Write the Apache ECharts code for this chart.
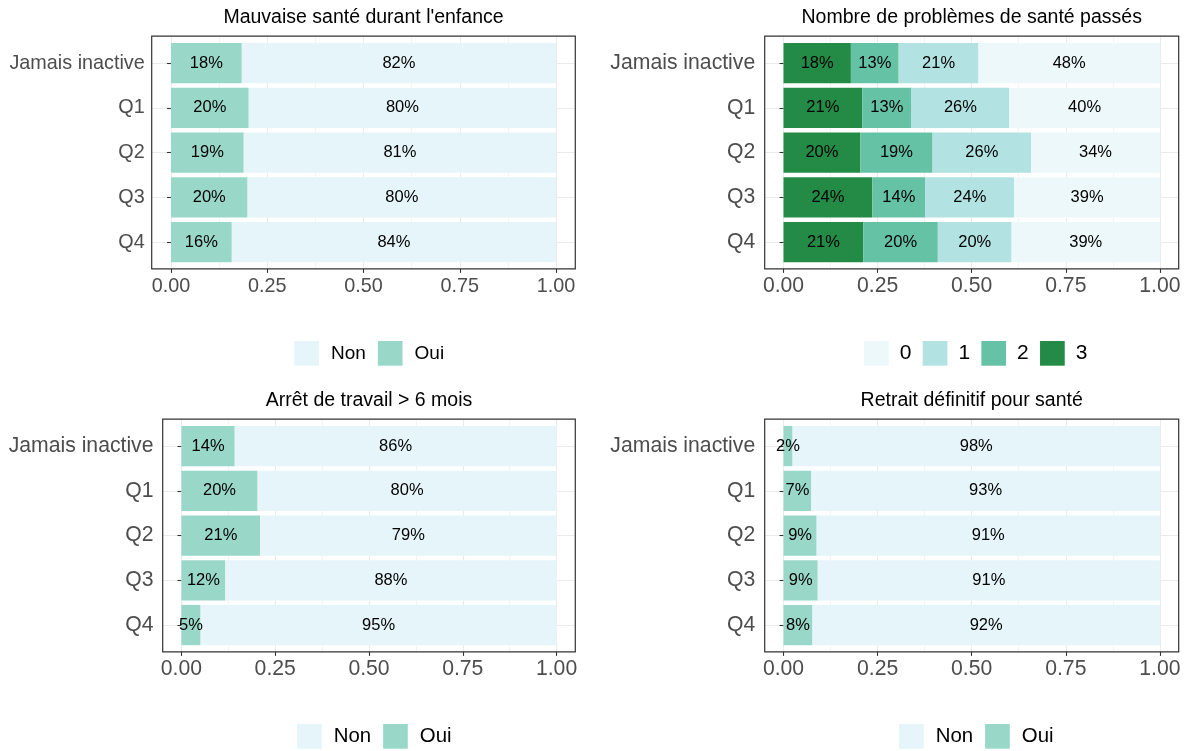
<!DOCTYPE html>
<html><head><meta charset="utf-8">
<script src="https://cdn.jsdelivr.net/npm/echarts@6/dist/echarts.min.js"></script>
<style>html,body{margin:0;padding:0;background:#fff}#c{width:1189px;height:751px}</style>
</head><body><div id="c"></div>
<script>
// ---- data ----
const categories = ['Jamais inactive', 'Q1', 'Q2', 'Q3', 'Q4'];
const xTicks = [0, 25, 50, 75, 100];

const enfanceOui = [18.4, 20.2, 18.9, 19.9, 15.8];
const enfanceNon = [81.6, 79.8, 81.1, 80.1, 84.2];

const problemes3 = [17.9, 20.9, 20.4, 23.6, 21.2];
const problemes2 = [12.7, 13.1, 19.2, 14.1, 19.8];
const problemes1 = [21.2, 26.0, 26.2, 23.6, 19.6];
const problemes0 = [48.2, 40.0, 34.2, 38.7, 39.4];

const arretOui = [14.2, 20.3, 21.0, 11.7, 5.1];
const arretNon = [85.8, 79.7, 79.0, 88.3, 94.9];

const retraitOui = [2.4, 7.4, 8.8, 9.1, 7.7];
const retraitNon = [97.6, 92.6, 91.2, 90.9, 92.3];

const titles = ["Mauvaise santé durant l'enfance", 'Nombre de problèmes de santé passés',
                'Arrêt de travail > 6 mois', 'Retrait définitif pour santé'];

// ---- style ----
const FONT = "'Liberation Sans', Arial, Helvetica, sans-serif";
const NON = '#E5F5F9', OUI = '#99D8C9';
const C0 = '#EDF8FB', C1 = '#B2E2E2', C2 = '#66C2A4', C3 = '#238B45';

const panels = [
  { frame: [151.7, 36.2, 575.3, 268.9], titleY: 17.5, axisFont: 19.8, yMargin: 7, xMargin: 7.5,
    legend: { names: ['Non', 'Oui'], left: 294.3, top: 341, gap: 12, pad: 7, font: 19 },
    series: [{ name: 'Oui', data: enfanceOui, color: OUI }, { name: 'Non', data: enfanceNon, color: NON }] },
  { frame: [764.7, 36.2, 1178.7, 268.9], titleY: 17.5, axisFont: 21.2, yMargin: 9.5, xMargin: 6.7,
    legend: { names: ['0', '1', '2', '3'], left: 864, top: 341, gap: 11.3, pad: 6, font: 21 },
    series: [{ name: '3', data: problemes3, color: C3 }, { name: '2', data: problemes2, color: C2 },
             { name: '1', data: problemes1, color: C1 }, { name: '0', data: problemes0, color: C0 }] },
  { frame: [162.7, 419.2, 575.3, 651.9], titleY: 400.8, axisFont: 21.2, yMargin: 9.2, xMargin: 6.7,
    legend: { names: ['Non', 'Oui'], left: 297, top: 724, gap: 12, pad: 7, font: 20.4 },
    series: [{ name: 'Oui', data: arretOui, color: OUI }, { name: 'Non', data: arretNon, color: NON }] },
  { frame: [764.7, 419.2, 1178.7, 651.9], titleY: 400.8, axisFont: 21.2, yMargin: 9.5, xMargin: 6.7,
    legend: { names: ['Non', 'Oui'], left: 899, top: 724, gap: 12, pad: 7, font: 20.4 },
    series: [{ name: 'Oui', data: retraitOui, color: OUI }, { name: 'Non', data: retraitNon, color: NON }] }
];

const grid = [], xAxis = [], yAxis = [], series = [], legend = [], graphic = [];
const nCat = categories.length;
const minorTicks = xTicks.slice(1).map((v, i) => (v + xTicks[i]) / 2);

panels.forEach((p, i) => {
  const [fl, ft, fr, fb] = p.frame;
  const fw = fr - fl, fh = fb - ft;
  const padX = fw * 0.05 / 1.1;
  const padY = fh * 0.1 / (nCat + 0.2);
  // frame grid (panel border)
  grid.push({ left: fl, top: ft, width: fw, height: fh, show: true, borderColor: '#333333',
              borderWidth: 1.2, backgroundColor: 'transparent', z: 10, containLabel: false, outerBoundsMode: 'none' });
  // data grid
  grid.push({ left: fl + padX, top: ft + padY, width: fw / 1.1, height: fh * nCat / (nCat + 0.2),
              show: false, containLabel: false, outerBoundsMode: 'none' });
  const gF = 2 * i, gD = 2 * i + 1;
  xAxis.push({ gridIndex: gF, type: 'value', min: -5, max: 105, show: false });
  yAxis.push({ gridIndex: gF, type: 'value', min: 0.4, max: nCat + 0.6, inverse: true, show: false });
  xAxis.push({ gridIndex: gD, type: 'value', min: xTicks[0], max: xTicks[xTicks.length - 1],
               interval: xTicks[1] - xTicks[0], position: 'bottom', offset: padY,
               axisLine: { show: false },
               axisTick: { show: true, length: 4, lineStyle: { color: '#333333', width: 1.1 } },
               axisLabel: { formatter: v => (v / 100).toFixed(2), color: '#4D4D4D', fontSize: p.axisFont,
                            fontFamily: FONT, margin: p.xMargin },
               splitLine: { show: false } });
  yAxis.push({ gridIndex: gD, type: 'category', data: categories, inverse: true, position: 'left',
               offset: padX,
               axisLine: { show: false },
               axisTick: { show: true, alignWithLabel: true, length: 4, lineStyle: { color: '#333333', width: 1.1 } },
               axisLabel: { color: '#4D4D4D', fontSize: p.axisFont, fontFamily: FONT, margin: p.yMargin, interval: 0,
                            padding: [4, 0, 0, 0] },
               splitLine: { show: false } });
  // gridlines (drawn under the bars)
  const ml = [];
  xTicks.forEach(v => ml.push({ xAxis: v, lineStyle: { color: '#EBEBEB', width: 1.1, type: 'solid' } }));
  minorTicks.forEach(v => ml.push({ xAxis: v, lineStyle: { color: '#EBEBEB', width: 0.55, type: 'solid' } }));
  categories.forEach((c, k) => ml.push({ yAxis: k + 1, lineStyle: { color: '#EBEBEB', width: 1.1, type: 'solid' } }));
  series.push({ type: 'line', name: 'grid' + i, xAxisIndex: gF, yAxisIndex: gF, data: [], silent: true, z: 0,
                markLine: { silent: true, z: 0, zlevel: 0, symbol: ['none', 'none'], animation: false,
                            label: { show: false }, emphasis: { disabled: true }, data: ml } });
  p.series.forEach(s => {
    series.push({ type: 'bar', name: s.name, xAxisIndex: gD, yAxisIndex: gD, stack: 'st' + i,
                  barWidth: '90%', data: s.data, z: 3,
                  itemStyle: { color: s.color, borderWidth: 0 },
                  emphasis: { disabled: true },
                  label: { show: true, position: 'inside', color: '#000000', fontSize: 16.5, fontFamily: FONT,
                           textBorderWidth: 0, padding: [2, 0, 0, 0], formatter: q => Math.round(q.value) + '%' } });
  });
  legend.push({ data: p.legend.names, left: p.legend.left, top: p.legend.top, orient: 'horizontal',
                itemWidth: 24.7, itemHeight: 24.7, itemGap: p.legend.gap, padding: 0, icon: 'rect',
                selectedMode: false,
                textStyle: { fontSize: p.legend.font, color: '#000000', fontFamily: FONT, padding: [0, 0, 0, p.legend.pad] } });
  graphic.push({ type: 'text', x: (fl + fr) / 2, y: p.titleY, silent: true,
                 style: { text: titles[i], fontSize: 19.5, fontFamily: FONT, fill: '#000000',
                          align: 'center', verticalAlign: 'middle' } });
});

const chart = echarts.init(document.getElementById('c'), null, { renderer: 'canvas' });
chart.setOption({
  animation: false,
  backgroundColor: '#ffffff',
  textStyle: { fontFamily: FONT },
  grid, xAxis, yAxis, series, legend, graphic
});
</script>
</body></html>
